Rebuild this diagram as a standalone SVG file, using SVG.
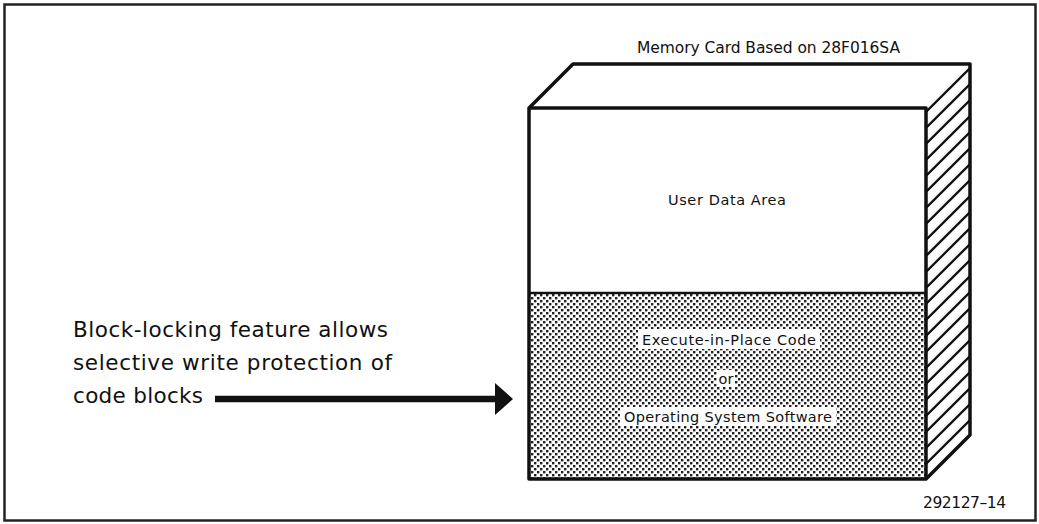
<svg xmlns="http://www.w3.org/2000/svg" width="1039" height="524" viewBox="0 0 1039 524">
  <style>
    .t { font-family: "DejaVu Sans", "Liberation Sans", sans-serif; fill: #111; }
    .edge { fill: none; stroke: #111; stroke-width: 3.5; stroke-linejoin: round; }
    .hatch { stroke: #111; stroke-width: 2.3; }
    .lbl { fill: #fff; }
  </style>
  <defs>
    <pattern id="stipple" width="6" height="6" patternUnits="userSpaceOnUse">
      <rect width="6" height="6" fill="#fff"/>
      <rect x="0" y="0" width="2.4" height="2.4" fill="#222"/>
      <rect x="3" y="3" width="2.4" height="2.4" fill="#222"/>
    </pattern>
    <clipPath id="sideClip">
      <polygon points="926,108 970,64 970,435 926,479"/>
    </clipPath>
  </defs>

  <rect width="1039" height="524" fill="#fff"/>
  <!-- outer frame -->
  <rect x="4.5" y="4.5" width="1031" height="516" fill="none" stroke="#222" stroke-width="2.5"/>

  <!-- memory card block -->
  <g id="card">
    <text class="t" x="637" y="53" font-size="15.5" textLength="263" lengthAdjust="spacing">Memory Card Based on 28F016SA</text>
    <!-- top face -->
    <polygon points="529,108 573,64 970,64 926,108" fill="#fff"/>
    <!-- lower stippled area -->
    <rect x="529" y="293" width="397" height="186" fill="url(#stipple)"/>
    <!-- hatched side face -->
    <g clip-path="url(#sideClip)">
      <g class="hatch">
        <line x1="926" y1="80" x2="970" y2="36"/>
        <line x1="926" y1="96" x2="970" y2="52"/>
        <line x1="926" y1="112" x2="970" y2="68"/>
        <line x1="926" y1="128" x2="970" y2="84"/>
        <line x1="926" y1="144" x2="970" y2="100"/>
        <line x1="926" y1="160" x2="970" y2="116"/>
        <line x1="926" y1="176" x2="970" y2="132"/>
        <line x1="926" y1="192" x2="970" y2="148"/>
        <line x1="926" y1="208" x2="970" y2="164"/>
        <line x1="926" y1="224" x2="970" y2="180"/>
        <line x1="926" y1="240" x2="970" y2="196"/>
        <line x1="926" y1="256" x2="970" y2="212"/>
        <line x1="926" y1="272" x2="970" y2="228"/>
        <line x1="926" y1="288" x2="970" y2="244"/>
        <line x1="926" y1="304" x2="970" y2="260"/>
        <line x1="926" y1="320" x2="970" y2="276"/>
        <line x1="926" y1="336" x2="970" y2="292"/>
        <line x1="926" y1="352" x2="970" y2="308"/>
        <line x1="926" y1="368" x2="970" y2="324"/>
        <line x1="926" y1="384" x2="970" y2="340"/>
        <line x1="926" y1="400" x2="970" y2="356"/>
        <line x1="926" y1="416" x2="970" y2="372"/>
        <line x1="926" y1="432" x2="970" y2="388"/>
        <line x1="926" y1="448" x2="970" y2="404"/>
        <line x1="926" y1="464" x2="970" y2="420"/>
        <line x1="926" y1="480" x2="970" y2="436"/>
      </g>
    </g>
    <!-- outlines -->
    <polygon class="edge" points="529,108 573,64 970,64 970,435 926,479 529,479"/>
    <polyline class="edge" points="529,108 926,108 926,479" stroke-width="2.5"/>
    <line x1="529" y1="293" x2="926" y2="293" stroke="#111" stroke-width="2.5"/>

    <text class="t" x="727" y="205" font-size="14.5" text-anchor="middle" textLength="118" lengthAdjust="spacing">User Data Area</text>

    <!-- labels on the stippled area -->
    <rect class="lbl" x="638" y="329" width="182" height="20"/>
    <text class="t" x="729" y="344.5" font-size="14.5" text-anchor="middle" textLength="174" lengthAdjust="spacing">Execute-in-Place Code</text>
    <rect class="lbl" x="717" y="370" width="18" height="17"/>
    <text class="t" x="726" y="383.5" font-size="14.5" text-anchor="middle">or</text>
    <rect class="lbl" x="620" y="407" width="216" height="19"/>
    <text class="t" x="728" y="421.5" font-size="14.5" text-anchor="middle" textLength="208" lengthAdjust="spacing">Operating System Software</text>
  </g>

  <!-- annotation text -->
  <g id="note">
    <text class="t" x="73" y="337" font-size="21.5" textLength="315" lengthAdjust="spacing">Block-locking feature allows</text>
    <text class="t" x="73" y="370" font-size="21.5" textLength="319" lengthAdjust="spacing">selective write protection of</text>
    <text class="t" x="73" y="403" font-size="21.5" textLength="130" lengthAdjust="spacing">code blocks</text>
  </g>

  <!-- connector -->
  <g id="connectors">
    <line x1="215" y1="399" x2="497" y2="399" stroke="#111" stroke-width="6.5"/>
    <polygon points="495,383 513,399 495,415" fill="#111"/>
  </g>

  <text class="t" x="923" y="508" font-size="15.5" textLength="83" lengthAdjust="spacing">292127–14</text>
</svg>
